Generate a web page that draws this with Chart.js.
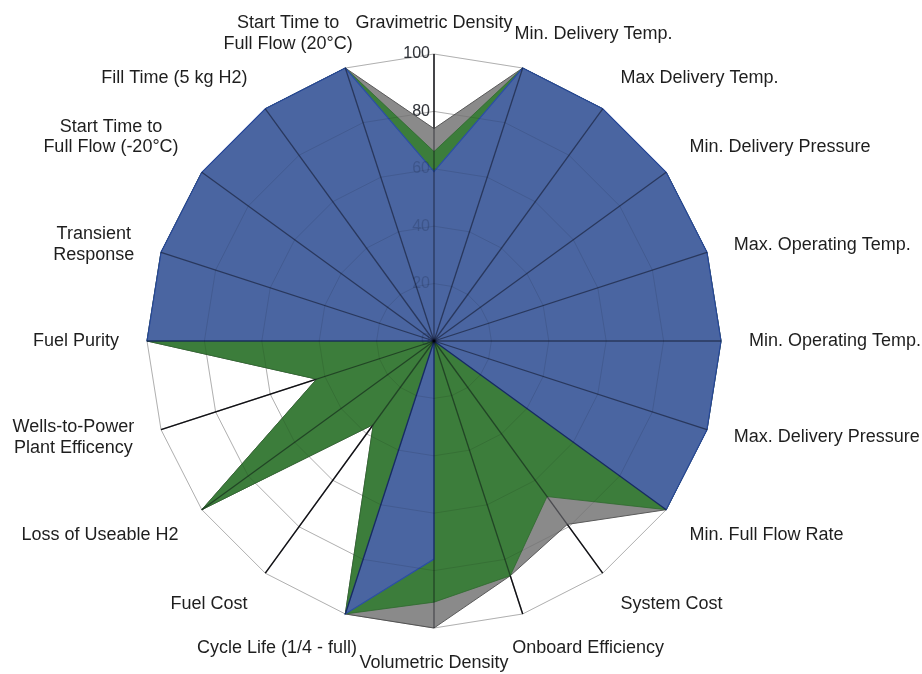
<!DOCTYPE html>
<html>
<head>
<meta charset="utf-8">
<script src="https://cdn.jsdelivr.net/npm/chart.js@4.4.1/dist/chart.umd.min.js"></script>
<style>
  html, body { margin: 0; padding: 0; background: #ffffff; }
  #wrap { width: 922px; height: 674px; position: relative; }
</style>
</head>
<body>
<div id="wrap"><canvas id="radar" width="922" height="674"></canvas></div>
<script>
// Axis categories, clockwise from the top
const categories = [
  'Gravimetric Density',
  'Min. Delivery Temp.',
  'Max Delivery Temp.',
  'Min. Delivery Pressure',
  'Max. Operating Temp.',
  'Min. Operating Temp.',
  'Max. Delivery Pressure',
  'Min. Full Flow Rate',
  'System Cost',
  'Onboard Efficiency',
  'Volumetric Density',
  'Cycle Life (1/4 - full)',
  'Fuel Cost',
  'Loss of Useable H2',
  'Wells-to-Power\nPlant Efficency',
  'Fuel Purity',
  'Transient\nResponse',
  'Start Time to\nFull Flow (-20°C)',
  'Fill Time (5 kg H2)',
  'Start Time to\nFull Flow (20°C)'
];

// Percent of target reached on each axis
const grayValues  = [74, 100, 100, 100, 100, 100, 100, 100, 79, 86, 100, 100, 36, 100, 43, 100, 100, 100, 100, 100];
const greenValues = [66, 100, 100, 100, 100, 100, 100, 100, 67, 86,  91, 100, 36, 100, 43, 100, 100, 100, 100, 100];
const blueValues  = [59, 100, 100, 100, 100, 100, 100, 100,  0,  0,  76, 100,  0,   0,  0, 100, 100, 100, 100, 100];

// Radial tick labels
const tickValues = [0, 20, 40, 60, 80, 100];

const LABEL_FONT = '18px "Liberation Sans", Arial, sans-serif';
const TICK_FONT = '16px "Liberation Sans", Arial, sans-serif';
const LINE_H = 20.5;
const LABEL_PAD = 25;

function drawTickLabels(ctx, scale, color) {
  ctx.save();
  ctx.font = TICK_FONT;
  ctx.fillStyle = color;
  ctx.textAlign = 'right';
  ctx.textBaseline = 'middle';
  tickValues.forEach(v => {
    const p = scale.getPointPositionForValue(0, v);
    ctx.fillText(String(v), p.x - 4, p.y);
  });
  ctx.restore();
}

// Lay out the category labels around the outer ring
function layoutLabels(ctx, scale) {
  ctx.font = LABEL_FONT;
  const items = categories.map((text, i) => {
    const lines = text.split('\n');
    const w = Math.max(...lines.map(l => ctx.measureText(l).width));
    const h = lines.length * LINE_H;
    const theta = scale.getIndexAngle(i);
    const sin = Math.sin(theta), cos = Math.cos(theta);
    const p = scale.getPointPosition(i, scale.drawingArea + LABEL_PAD);
    let align, left;
    if (Math.abs(sin) < 0.05) { align = 'center'; left = p.x - w / 2; }
    else if (sin > 0) { align = 'left'; left = p.x + 3; }
    else { align = 'right'; left = p.x - 3 - w; }
    let top;
    if (Math.abs(cos) < 0.35) top = p.y - h / 2;
    else if (cos > 0) top = p.y - h;
    else top = p.y;
    top = Math.max(top, 13);
    return { lines, w, h, sin, cos, align, left, top };
  });
  // near-vertical labels lean toward the vertical axis, without touching the centred label
  items.forEach(it => {
    if (it.align === 'center' || Math.abs(it.sin) >= 0.5) return;
    const shift = 0.14 * it.w * (it.sin > 0 ? -1 : 1);
    let left = it.left + shift;
    items.forEach(o => {
      if (o.align !== 'center') return;
      const vOverlap = it.top < o.top + o.h && o.top < it.top + it.h;
      if (!vOverlap) return;
      if (it.sin > 0) left = Math.max(left, o.left + o.w + 2);
      else left = Math.min(left, o.left - 2 - it.w);
    });
    it.left = left;
  });
  return items;
}

const overlayPlugin = {
  id: 'radarOverlay',
  beforeDatasetsDraw(chart) {
    drawTickLabels(chart.ctx, chart.scales.r, '#3a3a3a');
  },
  afterDatasetsDraw(chart) {
    const ctx = chart.ctx;
    const s = chart.scales.r;
    const n = categories.length;
    ctx.save();
    // faint rings over the filled areas
    ctx.strokeStyle = 'rgba(0,0,0,0.10)';
    ctx.lineWidth = 1;
    tickValues.forEach(v => {
      if (!v) return;
      ctx.beginPath();
      for (let i = 0; i < n; i++) {
        const p = s.getPointPositionForValue(i, v);
        if (i === 0) ctx.moveTo(p.x, p.y); else ctx.lineTo(p.x, p.y);
      }
      ctx.closePath();
      ctx.stroke();
    });
    // spokes showing through the fills
    ctx.strokeStyle = 'rgba(0,0,10,0.45)';
    ctx.lineWidth = 1.3;
    for (let i = 0; i < n; i++) {
      const c = s.getPointPositionForValue(i, 0);
      const p = s.getPointPositionForValue(i, 100);
      ctx.beginPath();
      ctx.moveTo(c.x, c.y);
      ctx.lineTo(p.x, p.y);
      ctx.stroke();
    }
    ctx.restore();

    drawTickLabels(ctx, s, 'rgba(20,30,60,0.22)');

    // category labels
    const items = layoutLabels(ctx, s);
    ctx.save();
    ctx.font = LABEL_FONT;
    ctx.fillStyle = '#1e1e1e';
    ctx.textAlign = 'center';
    ctx.textBaseline = 'middle';
    items.forEach(it => {
      it.lines.forEach((line, k) => {
        ctx.fillText(line, it.left + it.w / 2, it.top + LINE_H * (k + 0.5));
      });
    });
    ctx.restore();
  }
};

new Chart(document.getElementById('radar'), {
  type: 'radar',
  data: {
    labels: categories,
    datasets: [
      {
        label: 'Series A',
        data: blueValues,
        backgroundColor: '#4a65a1',
        borderColor: '#2b4ea6',
        borderWidth: 1.2,
        pointRadius: 0,
        fill: true,
        order: 1
      },
      {
        label: 'Series B',
        data: greenValues,
        backgroundColor: '#3c7d3b',
        borderColor: '#2e6a2e',
        borderWidth: 0.8,
        pointRadius: 0,
        fill: true,
        order: 2
      },
      {
        label: 'Series C',
        data: grayValues,
        backgroundColor: '#8a8a8a',
        borderColor: '#5a5a5a',
        borderWidth: 1,
        pointRadius: 0,
        fill: true,
        order: 3
      }
    ]
  },
  options: {
    responsive: false,
    animation: false,
    devicePixelRatio: 1,
    layout: { padding: { left: 147, right: 201, top: 54, bottom: 46 } },
    elements: { line: { tension: 0 } },
    plugins: {
      legend: { display: false },
      tooltip: { enabled: false }
    },
    scales: {
      r: {
        min: 0,
        max: 100,
        startAngle: 0,
        ticks: { display: false, stepSize: 20 },
        grid: { color: '#c4c4c4', lineWidth: 1, circular: false },
        angleLines: { color: '#1e1e1e', lineWidth: 1.4 },
        pointLabels: { display: false }
      }
    }
  },
  plugins: [overlayPlugin]
});
</script>
</body>
</html>
